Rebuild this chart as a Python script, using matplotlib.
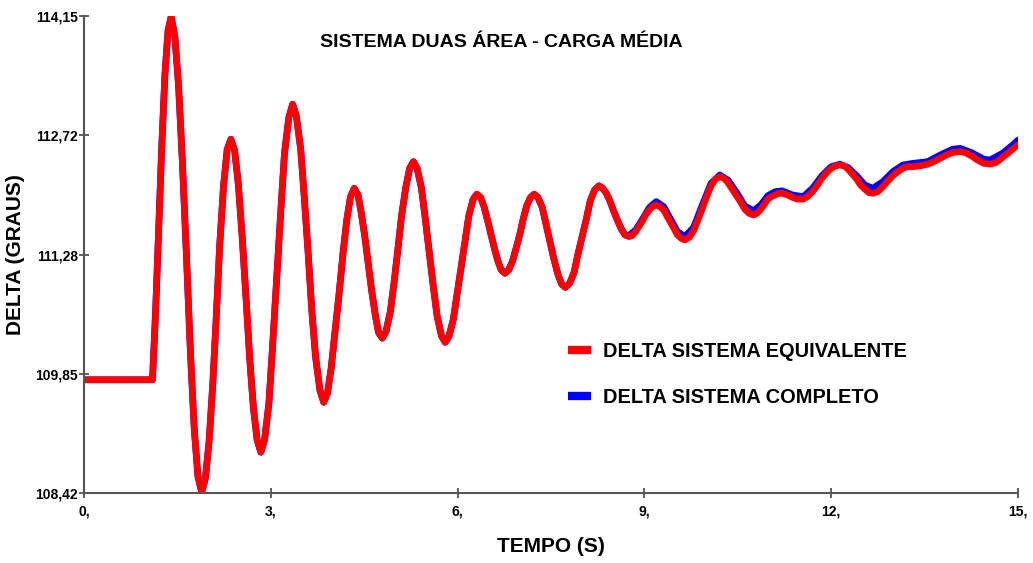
import matplotlib
matplotlib.use("Agg")
from matplotlib import pyplot as plt

# tempo (s) / delta (graus) - sistema equivalente
t_equiv = [0.0, 1.10, 1.15, 1.20, 1.25, 1.30, 1.35, 1.40,
	1.46, 1.52, 1.58, 1.645, 1.71, 1.77, 1.83, 1.89,
	1.95, 2.01, 2.07, 2.125, 2.18, 2.24, 2.30, 2.36,
	2.42, 2.48, 2.54, 2.60, 2.66, 2.72, 2.78, 2.84,
	2.90, 2.97, 3.03, 3.095, 3.16, 3.22, 3.29, 3.35,
	3.41, 3.48, 3.54, 3.60, 3.66, 3.72, 3.79, 3.85,
	3.91, 3.97, 4.03, 4.095, 4.16, 4.22, 4.28, 4.34,
	4.40, 4.45, 4.51, 4.565, 4.62, 4.68, 4.73, 4.79,
	4.85, 4.92, 4.98, 5.04, 5.10, 5.17, 5.23, 5.29,
	5.35, 5.42, 5.48, 5.545, 5.61, 5.67, 5.74, 5.80,
	5.86, 5.93, 5.99, 6.055, 6.12, 6.18, 6.25, 6.31,
	6.37, 6.42, 6.48, 6.535, 6.59, 6.65, 6.70, 6.76,
	6.82, 6.88, 6.94, 7.00, 7.05, 7.11, 7.17, 7.23,
	7.29, 7.36, 7.42, 7.48, 7.54, 7.61, 7.67, 7.73,
	7.80, 7.87, 7.93, 8.00, 8.07, 8.13, 8.20, 8.27,
	8.33, 8.39, 8.45, 8.51, 8.57, 8.63, 8.69, 8.75,
	8.80, 8.86, 8.91, 8.97, 9.02, 9.08, 9.13, 9.19,
	9.25, 9.31, 9.36, 9.42, 9.48, 9.53, 9.59, 9.65,
	9.72, 9.79, 9.86, 9.93, 10.00, 10.07, 10.14, 10.21,
	10.28, 10.34, 10.41, 10.48, 10.55, 10.61, 10.68, 10.75,
	10.81, 10.87, 10.93, 10.98, 11.04, 11.10, 11.16, 11.21,
	11.30, 11.38, 11.46, 11.55,
	11.62, 11.70, 11.78, 11.85, 11.93, 12.00, 12.07, 12.14,
	12.21, 12.27, 12.34, 12.41, 12.47, 12.54, 12.60, 12.67,
	12.75, 12.83, 12.91, 12.99, 13.07, 13.15, 13.23, 13.31, 13.43, 13.55,
	13.65, 13.75, 13.85, 13.95, 14.07,
	14.15, 14.25, 14.35, 14.45, 14.55,
	14.65, 14.75, 14.85, 14.93, 15.00]
delta_equiv = [109.78, 109.78, 110.6, 111.6, 112.6, 113.45, 113.98, 114.14,
	113.9, 113.3, 112.4, 111.28, 110.1, 109.2, 108.62, 108.43,
	108.6, 109.05, 109.75, 110.55, 111.4, 112.1, 112.55, 112.67,
	112.53, 112.12, 111.5, 110.79, 110.05, 109.45, 109.06, 108.91,
	109.06, 109.5, 110.2, 111.0, 111.8, 112.5, 112.93, 113.09,
	112.95, 112.55, 111.95, 111.3, 110.6, 110.05, 109.65, 109.51,
	109.62, 109.92, 110.35, 110.8, 111.3, 111.7, 111.98, 112.08,
	112.0, 111.8, 111.5, 111.18, 110.85, 110.55, 110.35, 110.28,
	110.36, 110.6, 110.95, 111.34, 111.75, 112.1, 112.32, 112.40,
	112.32, 112.08, 111.72, 111.31, 110.9, 110.55, 110.31, 110.23,
	110.3, 110.5, 110.8, 111.12, 111.45, 111.75, 111.95, 112.01,
	111.97, 111.87, 111.7, 111.53, 111.36, 111.2, 111.1, 111.06,
	111.1, 111.2, 111.36, 111.53, 111.7, 111.87, 111.97, 112.01,
	111.97, 111.85, 111.65, 111.45, 111.25, 111.05, 110.93, 110.89,
	110.94, 111.07, 111.28, 111.5, 111.72, 111.93, 112.06, 112.11,
	112.08, 112.02, 111.92, 111.8, 111.69, 111.59, 111.52, 111.50,
	111.51, 111.56, 111.62, 111.69, 111.76, 111.82, 111.86, 111.88,
	111.86, 111.82, 111.75, 111.67, 111.59, 111.52, 111.48, 111.46,
	111.49, 111.57, 111.7, 111.84, 111.98, 112.11, 112.19, 112.22,
	112.2, 112.15, 112.07, 111.99, 111.91, 111.83, 111.78, 111.76,
	111.78, 111.83, 111.89, 111.95, 111.98, 112.0, 112.02, 112.02,
	112.0, 111.97, 111.95, 111.95,
	111.98, 112.04, 112.12, 112.2, 112.27, 112.32, 112.35, 112.36,
	112.35, 112.31, 112.25, 112.19, 112.12, 112.07, 112.03, 112.02,
	112.04, 112.1, 112.17, 112.23, 112.28, 112.32, 112.34, 112.34, 112.35, 112.37,
	112.40, 112.44, 112.48, 112.51, 112.52,
	112.51, 112.47, 112.42, 112.38, 112.37,
	112.39, 112.45, 112.51, 112.56, 112.60]

# sistema completo: igual ao equivalente ate ~8.7 s, depois levemente acima
t_compl_tail = [8.75, 8.86, 8.97, 9.08, 9.19, 9.31, 9.42, 9.53, 9.65, 9.79, 9.93,
	10.07, 10.21, 10.34, 10.48, 10.61, 10.75, 10.87, 10.98, 11.10, 11.21, 11.38,
	11.55, 11.70, 11.85, 12.00, 12.14, 12.27, 12.41, 12.54, 12.67, 12.83, 12.99,
	13.15, 13.31, 13.55, 13.75, 13.95, 14.07, 14.25, 14.45, 14.55, 14.75, 14.93, 15.00]
delta_compl_tail = [111.51, 111.58, 111.71, 111.85, 111.92, 111.86, 111.71, 111.56, 111.50, 111.61, 111.88,
	112.14, 112.24, 112.18, 112.03, 111.87, 111.81, 111.88, 111.99, 112.04, 112.05, 112.0,
	111.98, 112.08, 112.23, 112.34, 112.37, 112.33, 112.23, 112.12, 112.08, 112.16, 112.28,
	112.36, 112.38, 112.40, 112.48, 112.55, 112.56, 112.51, 112.43, 112.42, 112.5, 112.61, 112.66]

n_head = t_equiv.index(8.75)
t_compl = t_equiv[:n_head] + t_compl_tail
delta_compl = delta_equiv[:n_head] + delta_compl_tail

xticks = [0, 3, 6, 9, 12, 15]
xticklabels = ['0,', '3,', '6,', '9,', '12,', '15,']
yticks = [108.42, 109.85, 111.28, 112.72, 114.15]
yticklabels = ['108,42', '109,85', '111,28', '112,72', '114,15']

plt.rcParams['font.family'] = ['Liberation Sans', 'DejaVu Sans']
plt.rcParams['font.weight'] = 'bold'

fig = plt.figure(figsize=(10.33, 5.63), dpi=100)
ax = fig.add_axes([0.0813, 0.1243, 0.9042, 0.8473])

l2, = ax.plot(t_compl, delta_compl, color='#0000ff', linewidth=4.8, label='DELTA SISTEMA COMPLETO',
	solid_joinstyle='round', solid_capstyle='round')
l1, = ax.plot(t_equiv, delta_equiv, color='#ff0000', linewidth=4.8, label='DELTA SISTEMA EQUIVALENTE',
	solid_joinstyle='round', solid_capstyle='round')

ax.set_xlim(0, 15)
ax.set_ylim(108.42, 114.15)
ax.set_xticks(xticks)
ax.set_xticklabels(xticklabels, fontsize=10, fontweight='bold')
ax.set_yticks(yticks)
ax.set_yticklabels(yticklabels, fontsize=10, fontweight='bold')
for s in ['top', 'right']:
	ax.spines[s].set_visible(False)
for s in ['left', 'bottom']:
	ax.spines[s].set_color('#555555')
	ax.spines[s].set_linewidth(1.5)
ax.tick_params(direction='inout', length=7, width=1.2, color='#444444')
ax.tick_params(axis='y', pad=1)
ax.tick_params(axis='x', pad=5)

ax.set_xlabel('TEMPO (S)', fontsize=15, fontweight='bold')
ax.xaxis.set_label_coords(0.5, -0.092)
ax.set_ylabel('DELTA (GRAUS)', fontsize=15, fontweight='bold')
ax.yaxis.set_label_coords(-0.063, 0.5)
fig.text(0.485, 0.925, 'SISTEMA DUAS ÁREA - CARGA MÉDIA', fontsize=14, fontweight='bold', ha='center', va='center')

leg = ax.legend([l1, l2], [l1.get_label(), l2.get_label()], loc='upper left',
	bbox_to_anchor=(0.532, 0.4245), bbox_transform=fig.transFigure, frameon=False,
	prop={'size': 14.4, 'weight': 'bold'}, handlelength=1.15, handletextpad=0.6, labelspacing=1.35)
for h in leg.get_lines():
	h.set_linewidth(6)
	h.set_solid_capstyle('butt')

plt.savefig('out.png', dpi=100)
